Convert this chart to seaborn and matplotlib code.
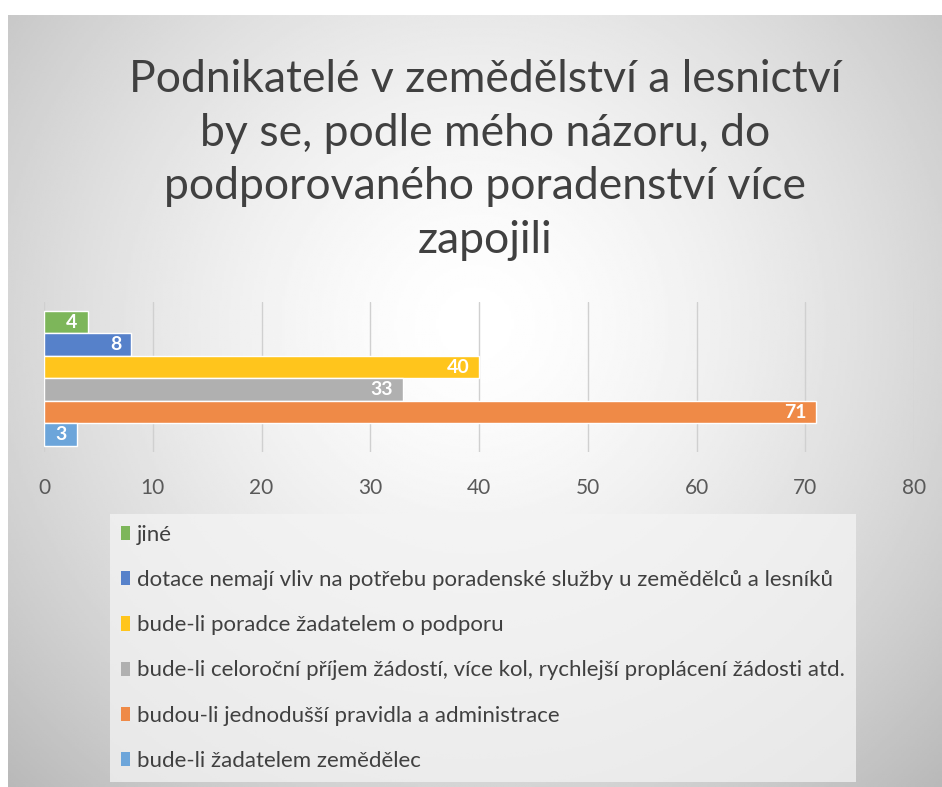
import numpy as np
import pandas as pd
import matplotlib
matplotlib.use("Agg")
import matplotlib.pyplot as plt
import seaborn as sns
from matplotlib.patches import Patch

# Data (top to bottom)
categories = [
    "jiné",
    "dotace nemají vliv na potřebu poradenské služby u zemědělců a lesníků",
    "bude-li poradce žadatelem o podporu",
    "bude-li celoroční příjem žádostí, více kol, rychlejší proplácení žádosti atd.",
    "budou-li jednodušší pravidla a administrace",
    "bude-li žadatelem zemědělec",
]
values = [4, 8, 40, 33, 71, 3]
colors = ["#7DB65A", "#5681CA", "#FFC51C", "#B0B0B0", "#EF8A47", "#6CA5DA"]
title = "Podnikatelé v zemědělství a lesnictví\nby se, podle mého názoru, do\npodporovaného poradenství více\nzapojili"

df = pd.DataFrame({"kategorie": categories, "pocet": values})

sns.set_theme(style="white")
plt.rcParams["font.family"] = ["Lato", "DejaVu Sans"]

W, H = 942, 787
fig = plt.figure(figsize=(W / 100, H / 100), dpi=100)
fig.patch.set_facecolor("white")

# radial gray gradient background of the chart panel
bg = fig.add_axes([8 / W, 0, 1 - 8 / W, 1 - 15 / H])
yy, xx = np.mgrid[0:1:400j, 0:1:400j]
r = np.sqrt(((xx - 0.5) / 0.72) ** 2 + ((yy - 0.40) / 0.85) ** 2)
shade = 1.0 - 0.28 * np.clip(r, 0, 1) ** 1.5
bg.imshow(shade, cmap="gray", vmin=0, vmax=1, aspect="auto", extent=[0, 1, 1, 0])
bg.set_axis_off()

# title
fig.text(485 / W, 1 - 160 / H, title, ha="center", va="center", fontsize=32,
         color="#404040", linespacing=1.38)

# bar chart
ax = fig.add_axes([44 / W, 1 - 452 / H, 870 / W, 150 / H])
ax.patch.set_alpha(0)
sns.barplot(data=df, x="pocet", y="kategorie", hue="kategorie", palette=colors,
            orient="h", width=1.0, edgecolor="white", linewidth=1,
            saturation=1, legend=False, ax=ax)
ax.set_xlim(0, 80)
ax.set_ylim(5.78, -0.9)
ax.set_xticks(range(0, 81, 10))
ax.set_yticks([])
ax.set_xlabel("")
ax.set_ylabel("")
ax.grid(axis="x", color="#d0d0d0", linewidth=1)
ax.set_axisbelow(True)
for s in ax.spines.values():
    s.set_visible(False)
ax.tick_params(axis="x", length=6, color="#d0d0d0", labelsize=15, labelcolor="#595959", pad=13)

for i, v in enumerate(values):
    ax.text(v - 0.9, i, str(v), ha="right", va="center", color="white",
            fontsize=14, fontweight="bold")

# legend
handles = [Patch(facecolor=c, edgecolor="none") for c in colors]
leg = fig.legend(handles, categories, loc="upper left",
                 bbox_to_anchor=(110 / W, 1 - 514 / H), frameon=True,
                 fontsize=16, labelspacing=1.13, handlelength=0.42,
                 handleheight=0.6, handletextpad=0.3, borderpad=0.5,
                 borderaxespad=0, fancybox=False)
leg.get_frame().set_facecolor("#f4f4f4")
leg.get_frame().set_edgecolor("none")
leg.get_frame().set_alpha(0.75)
for t in leg.get_texts():
    t.set_color("#404040")

fig.savefig("out.png", dpi=100)
